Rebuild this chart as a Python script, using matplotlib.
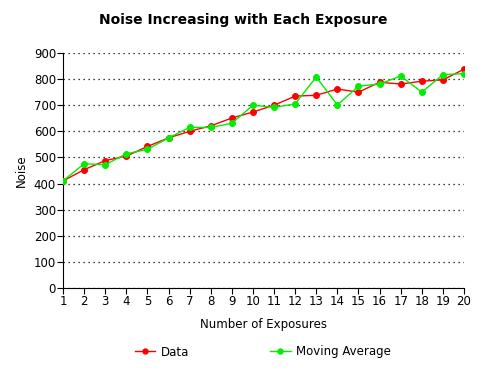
import matplotlib.pyplot as plt

# --- data ---
exposures = list(range(1, 21))
data = [410, 453, 488, 505, 542, 575, 600, 621, 651, 674,
        700, 735, 738, 762, 750, 788, 781, 792, 797, 838]
moving_avg = [410, 476, 472, 514, 531, 575, 615, 615, 631, 700,
              692, 705, 808, 701, 773, 781, 812, 750, 817, 821]
y_ticks = list(range(0, 901, 100))

plt.rcParams['font.family'] = 'DejaVu Sans'
plt.rcParams['font.size'] = 8.5

fig = plt.figure(figsize=(4.87, 3.75), dpi=100)
ax = fig.add_axes([63 / 487, 1 - 288 / 375, (464 - 63) / 487, (288 - 53) / 375])

ax.plot(exposures, data, color='#ff0000', lw=1, marker='o', ms=4, label='Data', zorder=3)
ax.plot(exposures, moving_avg, color='#00ee00', lw=1, marker='o', ms=4,
        label='Moving Average', zorder=4)

ax.set_xlim(1, 20)
ax.set_ylim(0, 900)
ax.set_xticks(exposures)
ax.set_yticks(y_ticks)
ax.yaxis.grid(True, color='black', linestyle=(0, (1, 3)), lw=0.9)
ax.set_axisbelow(True)
for s in ('top', 'right'):
    ax.spines[s].set_visible(False)
ax.tick_params(direction='out', length=4, width=0.8, pad=1)

ax.set_xlabel('Number of Exposures', labelpad=7)
ax.set_ylabel('Noise', labelpad=4)
fig.suptitle('Noise Increasing with Each Exposure', y=0.965, fontsize=10, fontweight='bold')

fig.legend(loc='center', bbox_to_anchor=(0.54, 1 - 352 / 375), ncol=2, frameon=False,
           columnspacing=6.9, handlelength=1.7, handletextpad=0.5, markerscale=0.9)

fig.savefig('out.png', dpi=100)
